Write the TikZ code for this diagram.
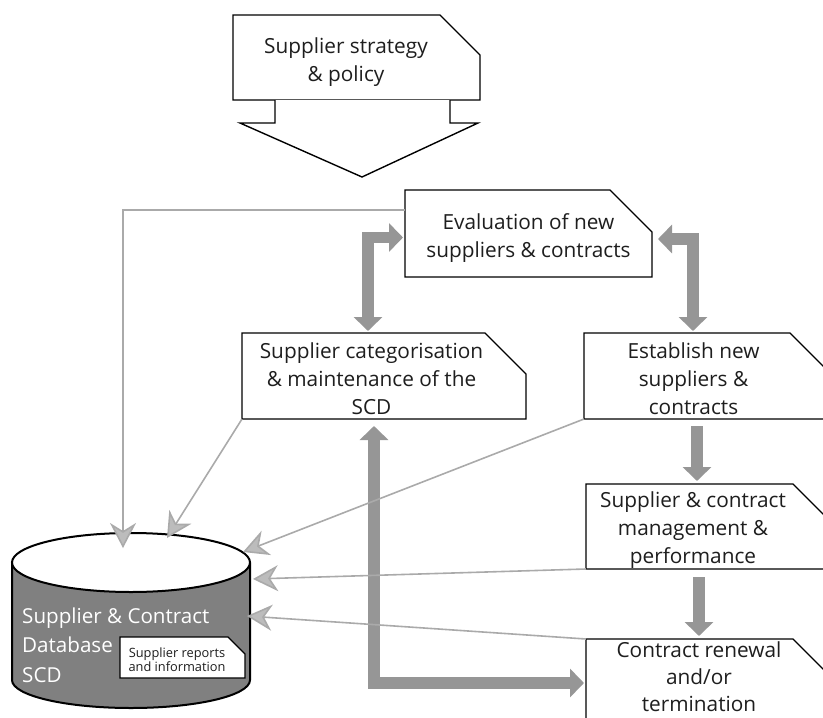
\documentclass[tikz,border=0pt]{standalone}
\usepackage{fontspec}
\setmainfont{Open Sans}
\usetikzlibrary{arrows.meta,calc}
\definecolor{blkgray}{RGB}{150,150,150}
\definecolor{dbgray}{RGB}{128,128,128}
\definecolor{feedgray}{RGB}{170,170,170}
\definecolor{feedhead}{RGB}{188,188,188}
\definecolor{ink}{RGB}{30,30,30}
\newcommand\cutshape[2]{\path[boxline,fill=white] (#1.south west) -- (#1.north west) -- ([xshift=-#2pt]#1.north east) -- ([yshift=-#2pt]#1.north east) -- (#1.south east) -- cycle;}
\begin{document}
\begin{tikzpicture}[x=1pt,y=-1pt,
  boxline/.style={draw=black,line width=1.4pt,line join=miter},
  boxnode/.style={inner sep=0,outer sep=0,draw=none},
  txt/.style={inner sep=0,align=center,text=ink,font=\fontsize{20.8}{28}\selectfont},
  smalltxt/.style={inner sep=0,align=center,text=ink,font=\fontsize{12.8}{13.5}\selectfont},
  dbtxt/.style={inner sep=0,align=left,text=white,font=\fontsize{20.6}{29.5}\selectfont},
  blockarrow/.style={draw=blkgray,line width=11.5pt,line join=miter,line cap=butt},
  bhead/.tip={Triangle[length=14pt,width=28pt]},
  feed/.style={draw=feedgray,line width=1.6pt,-{Stealth[length=25pt,width=26pt,inset=8pt,fill=feedhead]}},
]
\useasboundingbox (0,0) rectangle (823,718);
\clip (0,0) rectangle (823,718);

% boxes
\node[boxnode,minimum width=247pt,minimum height=85pt] (strat) at (356.5,57.5) {};
\cutshape{strat}{40}
\node[boxnode,minimum width=247pt,minimum height=87pt] (eval) at (528.5,233.5) {};
\cutshape{eval}{42}
\node[boxnode,minimum width=284pt,minimum height=86pt] (cat) at (384,376) {};
\cutshape{cat}{41}
\node[boxnode,minimum width=246pt,minimum height=86pt] (est) at (707,376) {};
\cutshape{est}{40}
\node[boxnode,minimum width=244pt,minimum height=85pt] (mgmt) at (708,526.5) {};
\cutshape{mgmt}{37}
\node[boxnode,minimum width=244pt,minimum height=101pt] (ren) at (708,689.5) {};
\cutshape{ren}{37}

% strategy outline arrow
\draw[boxline,fill=white] ([xshift=42pt]strat.south west) -- ++(0,23) -- ++(-35,0) -- ++(122,54) -- ++(116,-54) -- ++(-28,0) -- ++(0,-23);

% database
\fill[dbgray] (12,562.5) -- (12,680) arc[start angle=180,end angle=0,x radius=119,y radius=28] -- (250,562.5) -- cycle;
\draw[line width=2pt] (12,562.5) -- (12,680) arc[start angle=180,end angle=0,x radius=119,y radius=28] -- (250,562.5);
\draw[line width=2pt,fill=white] (131,562.5) ellipse [x radius=119,y radius=29.5];
\coordinate (dbA) at (123,548);
\coordinate (dbB) at (167,538);
\coordinate (dbC) at (243,552);
\coordinate (dbD) at (253,579);
\coordinate (dbE) at (247,616);
\node[dbtxt,anchor=west] (dbt) at (22,644.9) {Supplier \& Contract\\Database\\SCD};
\node[boxnode,minimum width=125pt,minimum height=41pt] (rep) at (182.5,657.5) {};
\cutshape{rep}{17}
\node[smalltxt] (rept) at (177,659.8) {Supplier reports\\and information};

% block arrows
\draw[blockarrow,{bhead}-{bhead}] ([xshift=-2pt,yshift=-4pt]eval.west) -| ([xshift=-16pt,yshift=2pt]cat.north);
\draw[blockarrow,{bhead}-{bhead}] ([xshift=6pt,yshift=-5.5pt]eval.east) -| ([xshift=-14pt,yshift=2pt]est.north);
\draw[blockarrow,-{bhead}] ([xshift=-10pt,yshift=-7pt]est.south) -- ([xshift=-11pt,yshift=3pt]mgmt.north);
\draw[blockarrow,-{bhead}] ([xshift=-9pt,yshift=-8pt]mgmt.south) -- ([xshift=-9pt,yshift=3pt]ren.north);
\draw[blockarrow,{bhead}-{bhead}] ([xshift=-10pt,yshift=-7pt]cat.south) |- ([xshift=-2pt,yshift=-44pt]ren.north west);

% feeds into database
\draw[feed] ([yshift=-20pt]eval.north west) -| (dbA);
\draw[feed] (cat.south west) -- (dbB);
\draw[feed] (est.south west) -- (dbC);
\draw[feed] (mgmt.south west) -- (dbD);
\draw[feed] (ren.north west) -- (dbE);

% texts
\node[txt] (stratt) at (346,61.6) {Supplier strategy\\\& policy};
\node[txt] (evalt) at (528.5,237.6) {Evaluation of new\\suppliers \& contracts};
\node[txt] (catt) at (371.5,378.2) {Supplier categorisation\\\& maintenance of the\\SCD};
\node[txt] (estt) at (693.5,378.2) {Establish new\\suppliers \&\\contracts};
\node[txt] (mgmtt) at (693,529.6) {Supplier \& contract\\management \&\\performance};
\node[txt,font=\fontsize{20.8}{27}\selectfont] (rent) at (699,676.5) {Contract renewal\\and/or\\termination};
\end{tikzpicture}
\end{document}
